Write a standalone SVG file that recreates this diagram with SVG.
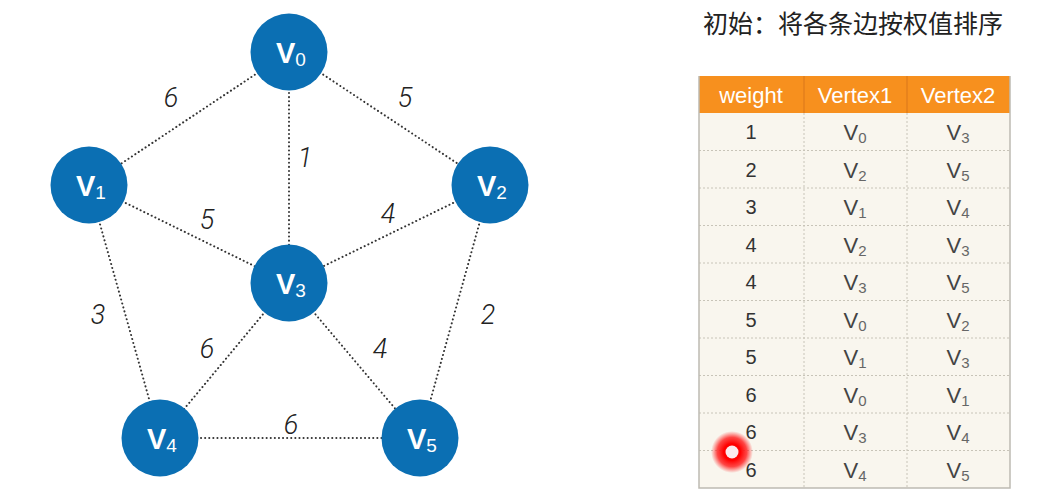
<svg xmlns="http://www.w3.org/2000/svg" width="1046" height="494" viewBox="0 0 1046 494">
<defs>
<style>
.edge{stroke:#333;stroke-width:2;stroke-dasharray:0.1 4;stroke-linecap:round;fill:none}
.node circle{fill:#0b6fb3}
.nl{fill:#fff;font-family:"Liberation Sans",Arial,sans-serif;font-size:29px;font-weight:bold}
.ns{font-size:19px;font-weight:normal}
.el{fill:#222;font-family:Roboto,"Liberation Sans",sans-serif;font-size:27px;font-weight:300;font-style:italic;text-anchor:middle}
.th{fill:#fff;font-family:"Liberation Sans",Arial,sans-serif;font-size:22px;text-anchor:middle}
.td{fill:#333;font-family:"Liberation Sans",Arial,sans-serif;font-size:20px;text-anchor:middle}
.tv{fill:#444;font-family:"Liberation Sans",Arial,sans-serif;font-size:22px;text-anchor:middle}
.tvs{font-size:15px;fill:#666}
.grid{stroke:#c8c4b8;stroke-width:1;stroke-dasharray:2 2}
.title{fill:#222;font-family:"Noto Sans CJK SC","Noto Sans",sans-serif;font-size:25px}
</style>
<radialGradient id="glow">
<stop offset="0.4" stop-color="#ff0000" stop-opacity="1"/>
<stop offset="0.7" stop-color="#ff1a1a" stop-opacity="0.8"/>
<stop offset="1" stop-color="#ff3030" stop-opacity="0"/>
</radialGradient>
</defs>
<rect width="1046" height="494" fill="#fff"/>
<g id="connectors">
<line class="edge" x1="289" y1="52" x2="89" y2="185"/>
<line class="edge" x1="289" y1="52" x2="490" y2="185"/>
<line class="edge" x1="289" y1="52" x2="289" y2="283"/>
<line class="edge" x1="89" y1="185" x2="289" y2="283"/>
<line class="edge" x1="490" y1="185" x2="289" y2="283"/>
<line class="edge" x1="89" y1="185" x2="160" y2="438"/>
<line class="edge" x1="490" y1="185" x2="420" y2="438"/>
<line class="edge" x1="289" y1="283" x2="160" y2="438"/>
<line class="edge" x1="289" y1="283" x2="420" y2="438"/>
<line class="edge" x1="160" y1="438" x2="420" y2="438"/>
</g>
<g id="edge-labels">
<text class="el" x="171" y="107">6</text>
<text class="el" x="405" y="107">5</text>
<text class="el" x="305" y="167">1</text>
<text class="el" x="207" y="229">5</text>
<text class="el" x="388" y="223">4</text>
<text class="el" x="98" y="324">3</text>
<text class="el" x="488" y="324">2</text>
<text class="el" x="207" y="358">6</text>
<text class="el" x="380" y="358">4</text>
<text class="el" x="291" y="434">6</text>
</g>
<g id="V0" class="node"><circle cx="289" cy="52" r="38.5"/><text class="nl" x="276" y="63">V<tspan class="ns" dy="3">0</tspan></text></g>
<g id="V1" class="node"><circle cx="89" cy="185" r="38.5"/><text class="nl" x="76" y="196">V<tspan class="ns" dy="3">1</tspan></text></g>
<g id="V2" class="node"><circle cx="490" cy="185" r="38.5"/><text class="nl" x="477" y="196">V<tspan class="ns" dy="3">2</tspan></text></g>
<g id="V3" class="node"><circle cx="289" cy="283" r="38.5"/><text class="nl" x="276" y="294">V<tspan class="ns" dy="3">3</tspan></text></g>
<g id="V4" class="node"><circle cx="160" cy="438" r="38.5"/><text class="nl" x="147" y="449">V<tspan class="ns" dy="3">4</tspan></text></g>
<g id="V5" class="node"><circle cx="420" cy="438" r="38.5"/><text class="nl" x="407" y="449">V<tspan class="ns" dy="3">5</tspan></text></g>
<g id="title"><text class="title" x="703" y="33">初始：将各条边按权值排序</text></g>
<g id="table">
<rect x="699" y="113" width="311" height="375" fill="#f9f6ee"/>
<rect x="699" y="76" width="311" height="37" fill="#f7901e"/>
<line x1="804" y1="76" x2="804" y2="113" stroke="#d9771a" stroke-width="1"/>
<line x1="907" y1="76" x2="907" y2="113" stroke="#d9771a" stroke-width="1"/>
<line class="grid" x1="804" y1="113" x2="804" y2="488"/>
<line class="grid" x1="907" y1="113" x2="907" y2="488"/>
<line class="grid" x1="699" y1="150.5" x2="1010" y2="150.5"/>
<line class="grid" x1="699" y1="188" x2="1010" y2="188"/>
<line class="grid" x1="699" y1="225.5" x2="1010" y2="225.5"/>
<line class="grid" x1="699" y1="263" x2="1010" y2="263"/>
<line class="grid" x1="699" y1="300.5" x2="1010" y2="300.5"/>
<line class="grid" x1="699" y1="338" x2="1010" y2="338"/>
<line class="grid" x1="699" y1="375.5" x2="1010" y2="375.5"/>
<line class="grid" x1="699" y1="413" x2="1010" y2="413"/>
<line class="grid" x1="699" y1="450.5" x2="1010" y2="450.5"/>
<path d="M699 76V488H1010V76" fill="none" stroke="#bdbab2" stroke-width="1.5"/>
<text class="th" x="751" y="103">weight</text>
<text class="th" x="855" y="103">Vertex1</text>
<text class="th" x="958" y="103">Vertex2</text>
<g class="td">
<text x="751" y="139">1</text><text x="751" y="176.5">2</text><text x="751" y="214">3</text><text x="751" y="251.5">4</text><text x="751" y="289">4</text>
<text x="751" y="326.5">5</text><text x="751" y="364">5</text><text x="751" y="401.5">6</text><text x="751" y="439">6</text><text x="751" y="476.5">6</text>
</g>
<g class="tv">
<text x="855" y="140">V<tspan class="tvs" dy="3">0</tspan></text><text x="958" y="140">V<tspan class="tvs" dy="3">3</tspan></text>
<text x="855" y="177.5">V<tspan class="tvs" dy="3">2</tspan></text><text x="958" y="177.5">V<tspan class="tvs" dy="3">5</tspan></text>
<text x="855" y="215">V<tspan class="tvs" dy="3">1</tspan></text><text x="958" y="215">V<tspan class="tvs" dy="3">4</tspan></text>
<text x="855" y="252.5">V<tspan class="tvs" dy="3">2</tspan></text><text x="958" y="252.5">V<tspan class="tvs" dy="3">3</tspan></text>
<text x="855" y="290">V<tspan class="tvs" dy="3">3</tspan></text><text x="958" y="290">V<tspan class="tvs" dy="3">5</tspan></text>
<text x="855" y="327.5">V<tspan class="tvs" dy="3">0</tspan></text><text x="958" y="327.5">V<tspan class="tvs" dy="3">2</tspan></text>
<text x="855" y="365">V<tspan class="tvs" dy="3">1</tspan></text><text x="958" y="365">V<tspan class="tvs" dy="3">3</tspan></text>
<text x="855" y="402.5">V<tspan class="tvs" dy="3">0</tspan></text><text x="958" y="402.5">V<tspan class="tvs" dy="3">1</tspan></text>
<text x="855" y="440">V<tspan class="tvs" dy="3">3</tspan></text><text x="958" y="440">V<tspan class="tvs" dy="3">4</tspan></text>
<text x="855" y="477.5">V<tspan class="tvs" dy="3">4</tspan></text><text x="958" y="477.5">V<tspan class="tvs" dy="3">5</tspan></text>
</g>
</g>
<g id="cursor">
<circle cx="732" cy="452" r="21" fill="url(#glow)"/>
<circle cx="732" cy="452" r="6.5" fill="#fbe9ec"/>
</g>
</svg>
